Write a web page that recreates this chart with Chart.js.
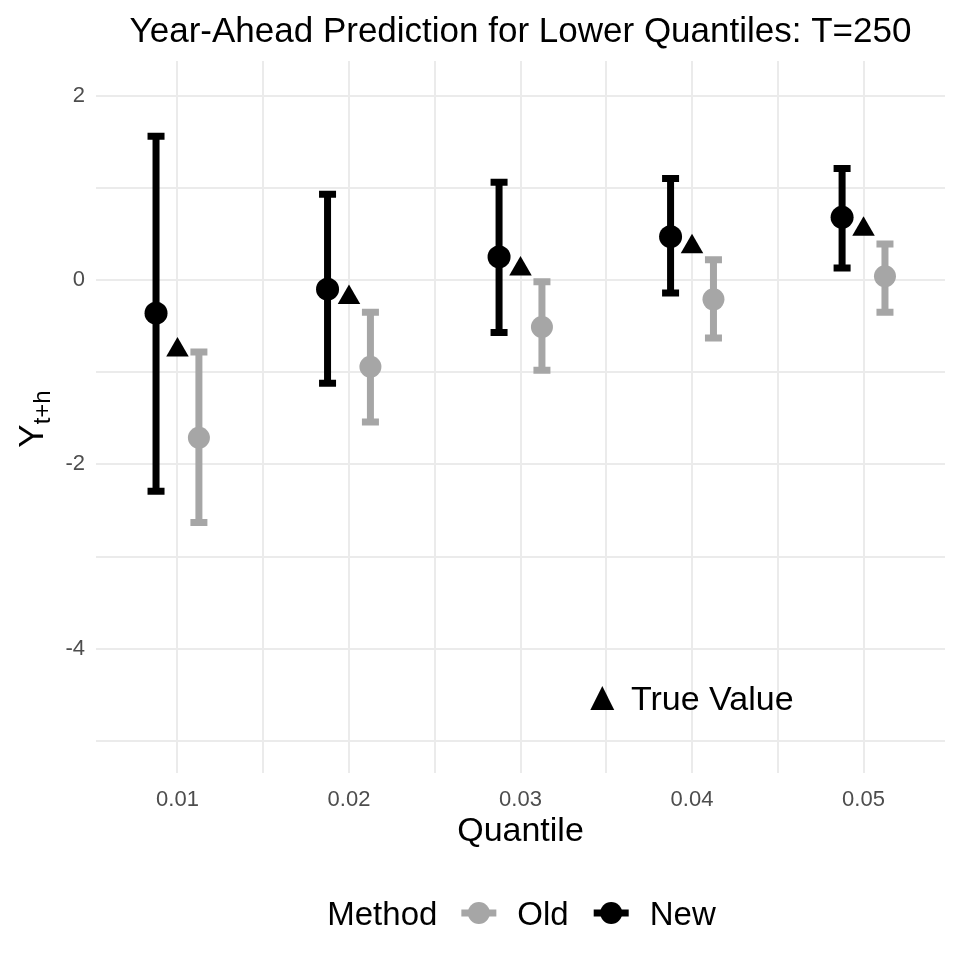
<!DOCTYPE html>
<html><head><meta charset="utf-8">
<script src="https://cdn.jsdelivr.net/npm/chart.js@4.4.0/dist/chart.umd.min.js"></script>
<style>html,body{margin:0;padding:0;background:#fff}#wrap{width:960px;height:960px;position:relative}</style>
</head><body><div id="wrap"><canvas id="c"></canvas></div>
<script>
// ---- data ----
const categories = ['0.01', '0.02', '0.03', '0.04', '0.05'];
const newEst = [-0.36, -0.10, 0.25, 0.47, 0.68];
const newLo  = [-2.29, -1.12, -0.57, -0.14, 0.13];
const newHi  = [1.56, 0.93, 1.06, 1.10, 1.21];
const oldEst = [-1.71, -0.94, -0.51, -0.21, 0.04];
const oldLo  = [-2.63, -1.54, -0.98, -0.63, -0.35];
const oldHi  = [-0.78, -0.35, -0.02, 0.22, 0.39];
const trueVal = [-0.76, -0.19, 0.12, 0.36, 0.55];
const yTickValues = [-5, -4, -3, -2, -1, 0, 1, 2];
const yTickLabels = ['', '-4', '', '-2', '', '0', '', '2'];
const xTickValues = [1, 1.5, 2, 2.5, 3, 3.5, 4, 4.5, 5];
const titleText = 'Year-Ahead Prediction for Lower Quantiles: T=250';
const xTitle = 'Quantile';
const yTitleMain = 'Y';
const yTitleSub = 't+h';
const legendTitle = 'Method';
const legendLabels = ['Old', 'New'];
const annotationSymbol = '\u25B2';
const annotationText = 'True Value';
const annotationPos = {x: 4, y: -4.5};

// ---- styling ----
const FONT = "'Liberation Sans', Arial, Helvetica, sans-serif";
const BLACK = '#000000';
const GREY = '#A6A6A6';
const GRID = '#EBEBEB';
const DODGE = 0.125;

const pos = (i, off) => i + 1 + off;

const errorBarPlugin = {
  id: 'errbars',
  beforeDatasetsDraw(chart) {
    const {ctx, scales: {x, y}} = chart;
    chart.data.datasets.forEach(ds => {
      if (!ds.errLo) return;
      ctx.save();
      ctx.strokeStyle = ds.backgroundColor;
      ctx.lineWidth = 7;
      ctx.lineCap = 'butt';
      ds.data.forEach((p, i) => {
        const px = x.getPixelForValue(p.x);
        const lo = y.getPixelForValue(ds.errLo[i]);
        const hi = y.getPixelForValue(ds.errHi[i]);
        ctx.beginPath();
        ctx.moveTo(px, lo); ctx.lineTo(px, hi);
        ctx.moveTo(px - 8.5, lo); ctx.lineTo(px + 8.5, lo);
        ctx.moveTo(px - 8.5, hi); ctx.lineTo(px + 8.5, hi);
        ctx.stroke();
      });
      ctx.restore();
    });
  }
};

const textPlugin = {
  id: 'texts',
  afterDraw(chart) {
    const {ctx, chartArea: ca, scales: {x, y}} = chart;
    const cx = (ca.left + ca.right) / 2;
    ctx.save();
    // title
    ctx.fillStyle = BLACK;
    ctx.font = '35px ' + FONT;
    ctx.textAlign = 'center';
    ctx.textBaseline = 'alphabetic';
    ctx.fillText(titleText, cx, 42);

    // y title with subscript
    const cy = (ca.top + ca.bottom) / 2;
    ctx.font = '35px ' + FONT;
    const wMain = ctx.measureText(yTitleMain).width;
    ctx.font = '24px ' + FONT;
    const wSub = ctx.measureText(yTitleSub).width;
    const total = wMain + wSub;
    ctx.save();
    ctx.translate(43, cy + total / 2 + 2);
    ctx.rotate(-Math.PI / 2);
    ctx.textAlign = 'left';
    ctx.font = '35px ' + FONT;
    ctx.fillText(yTitleMain, 0, 0);
    ctx.font = '24px ' + FONT;
    ctx.fillText(yTitleSub, wMain, 7);
    ctx.restore();

    // annotation
    const ax = x.getPixelForValue(annotationPos.x);
    const ay = y.getPixelForValue(annotationPos.y) + 15;
    ctx.textAlign = 'left';
    ctx.textBaseline = 'alphabetic';
    ctx.font = '41px ' + FONT;
    const mt = ctx.measureText(annotationSymbol);
    ctx.fillText(annotationSymbol, ax - 102 + mt.actualBoundingBoxLeft, ay + mt.actualBoundingBoxDescent * 0);
    ctx.font = '34px ' + FONT;
    const mv = ctx.measureText(annotationText);
    ctx.fillText(annotationText, ax - 61 + mv.actualBoundingBoxLeft, ay);

    // legend
    ctx.font = '33px ' + FONT;
    ctx.textAlign = 'left';
    const base = 925, mid = 913;
    const wTitle = ctx.measureText(legendTitle).width;
    const wOld = ctx.measureText(legendLabels[0]).width;
    const wNew = ctx.measureText(legendLabels[1]).width;
    const key = 35, g1 = 24, g2 = 21, g3 = 25;
    const totalW = wTitle + g1 + key + g2 + wOld + g3 + key + g2 + wNew;
    let lx = cx - totalW / 2 + 1;
    ctx.fillText(legendTitle, lx, base);
    lx += wTitle + g1;
    const drawKey = (x0, col) => {
      ctx.save();
      ctx.strokeStyle = col; ctx.fillStyle = col; ctx.lineWidth = 7;
      ctx.beginPath(); ctx.moveTo(x0, mid); ctx.lineTo(x0 + key, mid); ctx.stroke();
      ctx.beginPath(); ctx.arc(x0 + key / 2, mid, 11, 0, Math.PI * 2); ctx.fill();
      ctx.restore();
    };
    drawKey(lx, GREY);
    lx += key + g2;
    ctx.fillText(legendLabels[0], lx, base);
    lx += wOld + g3;
    drawKey(lx, BLACK);
    lx += key + g2;
    ctx.fillText(legendLabels[1], lx, base);
    ctx.restore();
  }
};

const ctx = document.getElementById('c');
new Chart(ctx, {
  type: 'scatter',
  data: {
    datasets: [
      {
        label: 'True Value',
        data: trueVal.map((v, i) => ({x: pos(i, 0), y: v})),
        pointStyle: 'triangle', pointRadius: 13, pointHoverRadius: 13,
        backgroundColor: BLACK, borderColor: BLACK, borderWidth: 0
      },
      {
        label: 'New',
        data: newEst.map((v, i) => ({x: pos(i, -DODGE), y: v})),
        errLo: newLo, errHi: newHi,
        pointStyle: 'circle', pointRadius: 11.5, pointHoverRadius: 11.5,
        backgroundColor: BLACK, borderColor: BLACK, borderWidth: 0
      },
      {
        label: 'Old',
        data: oldEst.map((v, i) => ({x: pos(i, DODGE), y: v})),
        errLo: oldLo, errHi: oldHi,
        pointStyle: 'circle', pointRadius: 11, pointHoverRadius: 11,
        backgroundColor: GREY, borderColor: GREY, borderWidth: 0
      }
    ]
  },
  options: {
    responsive: true,
    maintainAspectRatio: false,
    animation: false,
    events: [],
    layout: {padding: {left: 0, right: 15, top: 61, bottom: 97}},
    plugins: {legend: {display: false}, title: {display: false}, tooltip: {enabled: false}},
    scales: {
      x: {
        type: 'linear', min: 0.525, max: 5.475,
        afterBuildTicks: (axis) => { axis.ticks = xTickValues.map(v => ({value: v})); },
        afterFit: (axis) => { axis.height = 90; },
        ticks: {
          autoSkip: false, maxRotation: 0, padding: 14,
          color: '#4D4D4D', font: {family: FONT, size: 22},
          callback: (v) => Number.isInteger(v) ? categories[v - 1] : ''
        },
        grid: {color: GRID, lineWidth: 2, drawTicks: false},
        border: {display: false},
        title: {display: true, text: xTitle, color: BLACK, font: {family: FONT, size: 34}, padding: {top: 0, bottom: 11}}
      },
      y: {
        type: 'linear', min: -5.347, max: 2.375,
        afterBuildTicks: (axis) => { axis.ticks = yTickValues.map(v => ({value: v})); },
        afterFit: (axis) => { axis.width = 96; },
        ticks: {
          padding: 11, color: '#4D4D4D', font: {family: FONT, size: 22},
          callback: (v) => yTickLabels[yTickValues.indexOf(v)]
        },
        grid: {color: GRID, lineWidth: 2, drawTicks: false},
        border: {display: false}
      }
    }
  },
  plugins: [errorBarPlugin, textPlugin]
});
</script>
</body></html>
